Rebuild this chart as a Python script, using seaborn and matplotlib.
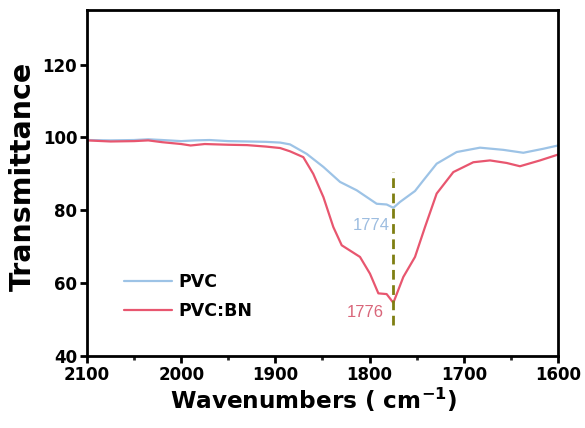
import numpy as np
import pandas as pd
import matplotlib
matplotlib.use("Agg")
import matplotlib.pyplot as plt
import seaborn as sns

# Data
pvc_wn = [2100, 2075, 2050, 2035, 2020, 2000, 1985, 1970, 1950, 1930, 1910, 1895,
          1884.5, 1866.8, 1849, 1831.4, 1813.7, 1792.5, 1781.9, 1774.8, 1767.7,
          1751.8, 1743, 1728.8, 1707.6, 1682.8, 1658, 1636.8, 1615.6, 1600]
pvc_t = [99.3, 99.2, 99.3, 99.5, 99.3, 99.0, 99.2, 99.3, 99.0, 98.9, 98.8, 98.6,
         98.1, 95.5, 91.9, 87.8, 85.5, 81.8, 81.6, 80.7, 82.3,
         85.3, 88.2, 92.8, 96.0, 97.2, 96.6, 95.8, 96.9, 97.8]

bn_wn = [2100, 2075, 2050, 2035, 2020, 2000, 1990, 1975, 1950, 1930, 1910, 1895,
         1884.5, 1870.4, 1859.8, 1849, 1838.5, 1829.6, 1810.2, 1799.6, 1790.7,
         1781.9, 1774.8, 1764.2, 1751.8, 1741.2, 1728.8, 1711.1, 1689.9, 1672.2,
         1654.5, 1640.4, 1619.1, 1600]
bn_t = [99.2, 98.9, 99.0, 99.2, 98.7, 98.2, 97.8, 98.2, 98.0, 97.9, 97.5, 97.1,
        96.2, 94.6, 90.0, 83.6, 75.4, 70.4, 67.2, 62.6, 57.2,
        57.0, 54.6, 61.7, 67.2, 75.4, 84.6, 90.5, 93.2, 93.7,
        93.0, 92.1, 93.7, 95.3]

series_names = ["PVC", "PVC:BN"]
colors = ["#9dc3e6", "#e8566f"]
peak_labels = ["1774", "1776"]
peak_pos = 1775

df = pd.concat([
    pd.DataFrame({"wn": pvc_wn, "T": pvc_t, "sample": series_names[0]}),
    pd.DataFrame({"wn": bn_wn, "T": bn_t, "sample": series_names[1]}),
])

sns.set_theme(style="ticks")
plt.rcParams["font.family"] = ["DejaVu Sans"]
plt.rcParams["mathtext.fontset"] = "dejavusans"
plt.rcParams["text.color"] = "black"
plt.rcParams["axes.labelcolor"] = "black"

fig = plt.figure(figsize=(5.85, 4.28), dpi=100)
ax = fig.add_axes([87 / 585, 72 / 428, (558 - 87) / 585, (356 - 10) / 428])

sns.lineplot(data=df, x="wn", y="T", hue="sample", palette=colors, sort=False,
             estimator=None, linewidth=1.6, ax=ax)

ax.plot([peak_pos, peak_pos], [48.5, 90.6], color="#7f7f12", lw=2, ls=(0, (3.5, 2)))
ax.text(1778.3, 75.9, peak_labels[0], color="#9dbde0", fontsize=12,
        family="Liberation Sans", ha="right", va="center")
ax.text(1785.5, 52.0, peak_labels[1], color="#d9667a", fontsize=12,
        family="Liberation Sans", ha="right", va="center")

ax.set_xlim(2100, 1600)
ax.set_ylim(40, 135)
ax.set_xticks([2100, 2000, 1900, 1800, 1700, 1600])
ax.set_xticks([2050, 1950, 1850, 1750, 1650], minor=True)
ax.set_yticks([40, 60, 80, 100, 120])
for s in ax.spines.values():
    s.set_linewidth(2)
    s.set_color("black")
ax.tick_params(axis="both", which="major", direction="out", length=5, width=2,
               labelsize=12, colors="black", pad=2)
ax.tick_params(axis="x", which="minor", direction="out", length=3, width=2)
for lab in ax.get_xticklabels() + ax.get_yticklabels():
    lab.set_fontweight("bold")

ax.set_xlabel("Wavenumbers ( cm$^{\\mathbf{-1}}$)", fontsize=16.7, fontweight="bold")
ax.set_ylabel("Transmittance", fontsize=20.5, fontweight="bold")
ax.xaxis.set_label_coords(0.482, -0.085)
ax.yaxis.set_label_coords(-0.107, 0.52)

leg = ax.legend(loc="lower left", bbox_to_anchor=(0.045, 0.06), frameon=False,
                prop={"weight": "bold", "size": 12.5}, handlelength=2.8,
                handletextpad=0.35, labelspacing=0.6)
for line in leg.get_lines():
    line.set_linewidth(1.6)

fig.savefig("out.png", dpi=100)
